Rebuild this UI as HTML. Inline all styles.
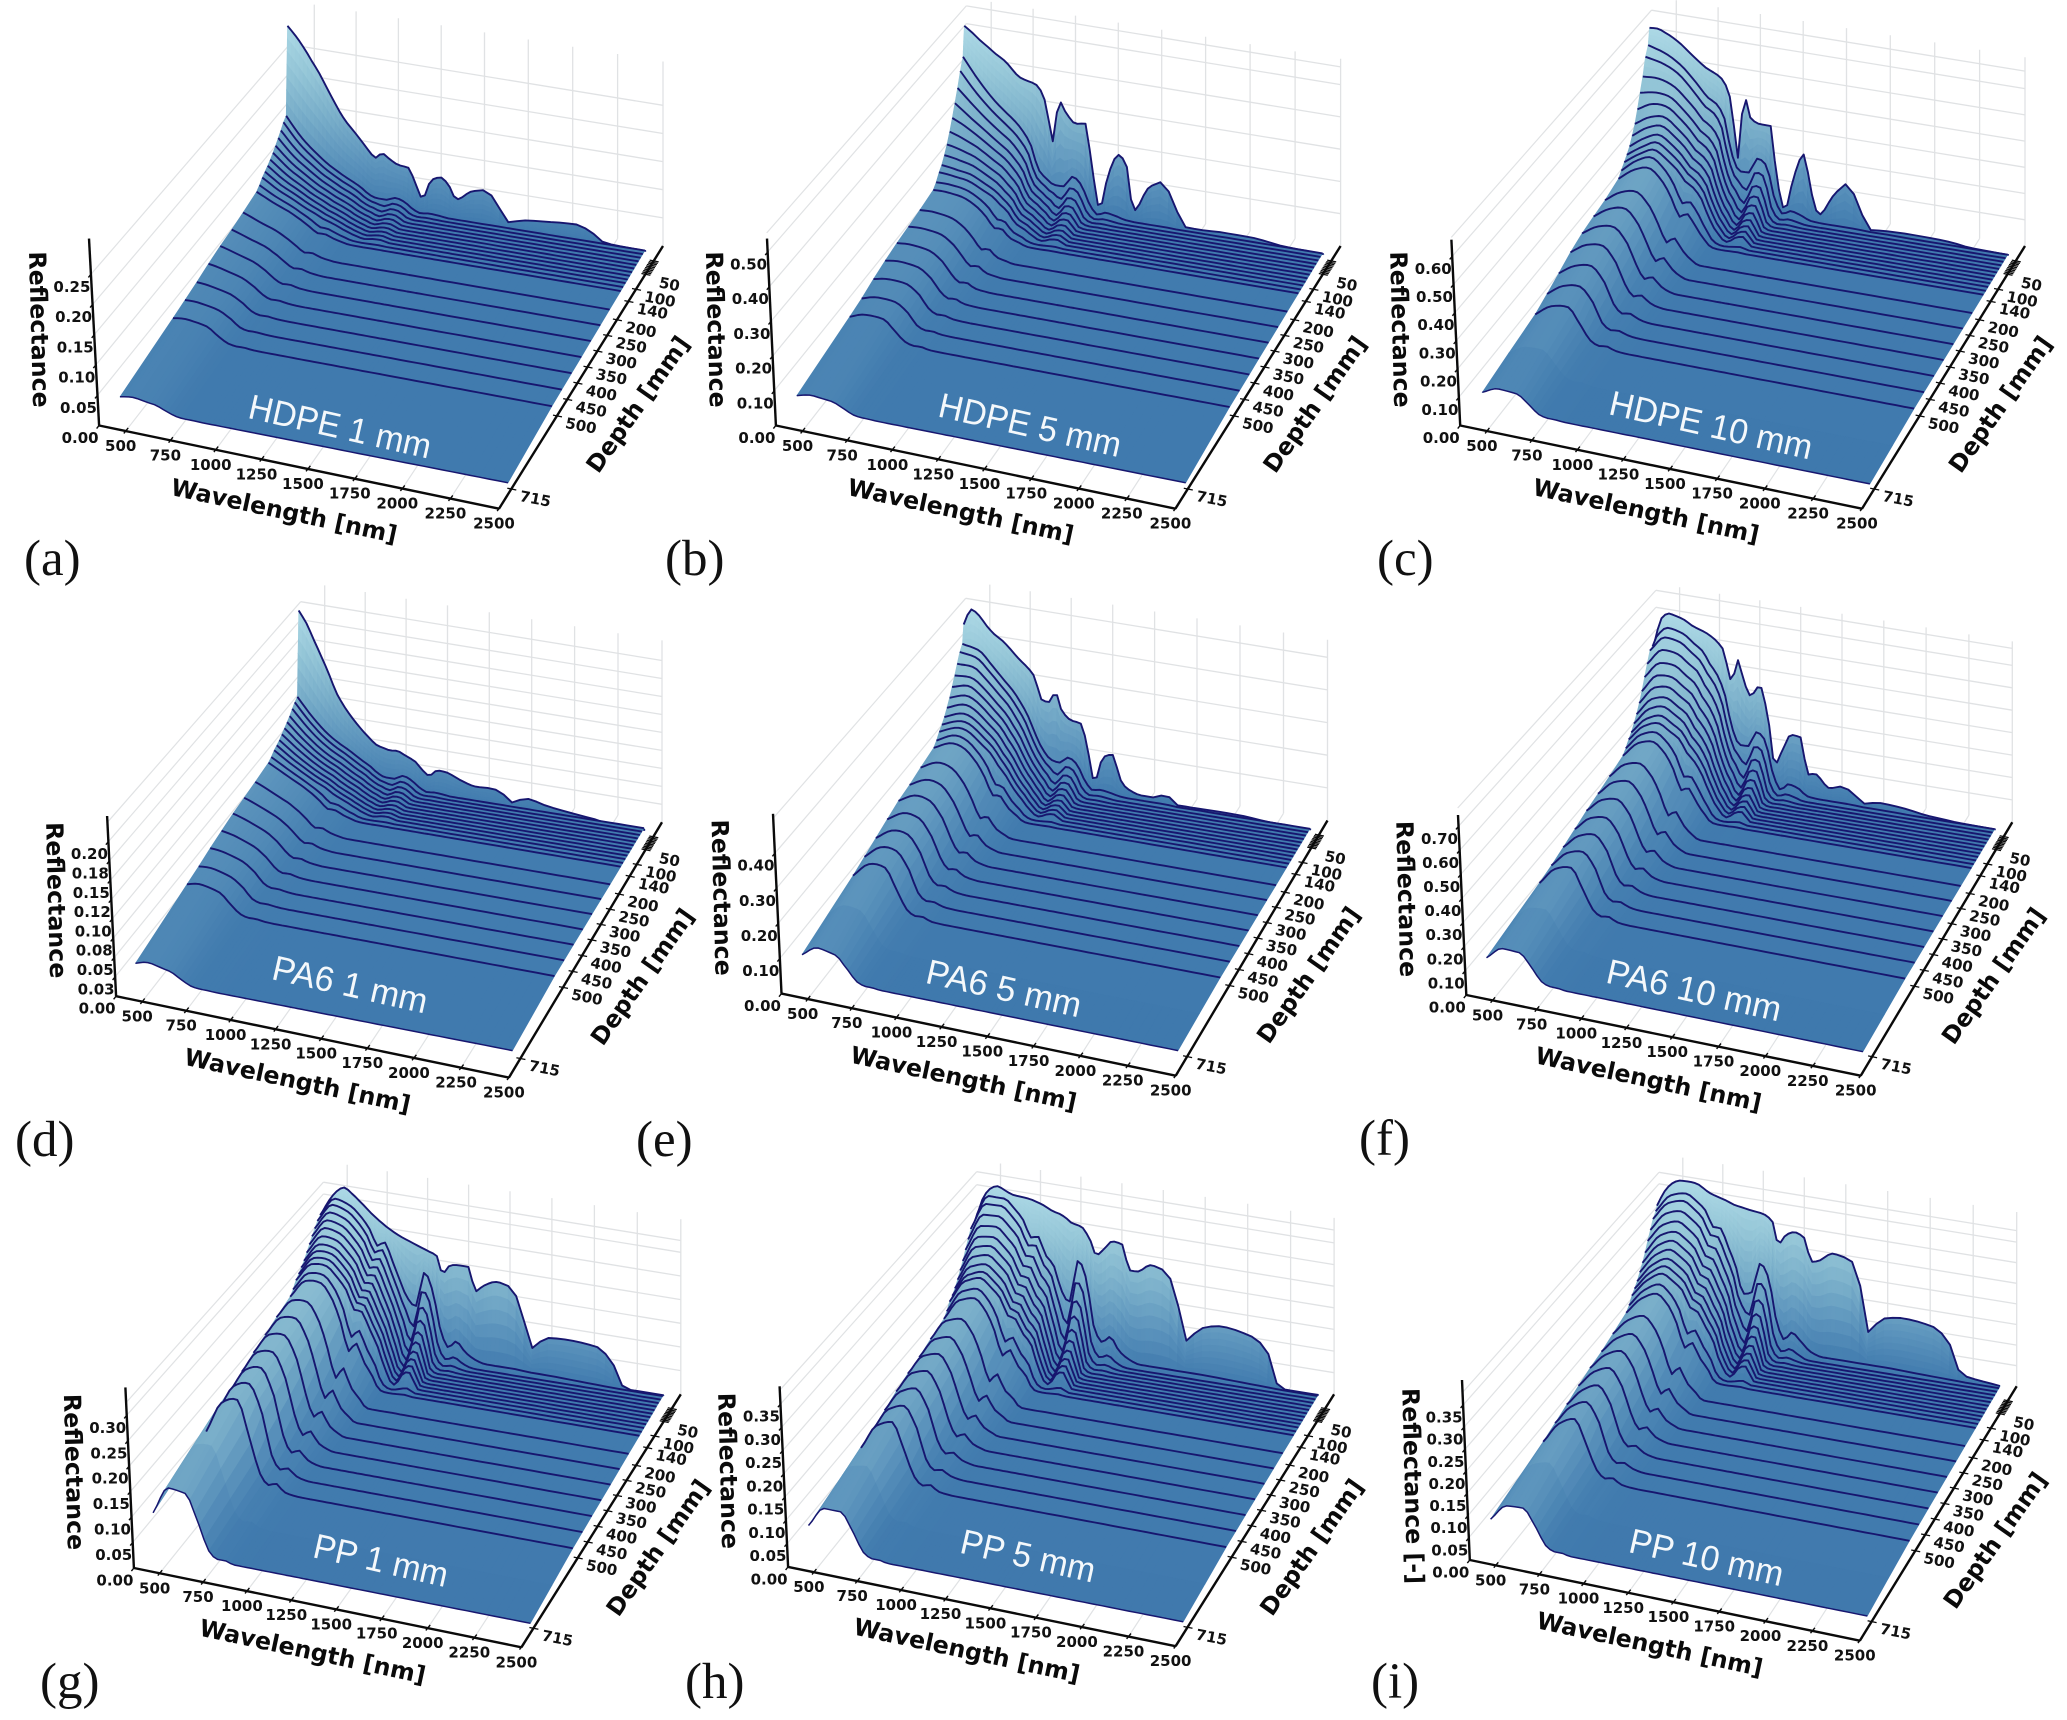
<!DOCTYPE html>
<html lang="en">
<head>
<meta charset="utf-8">
<title>Reflectance waterfall plots</title>
<style>
html,body{margin:0;padding:0;background:#fff;}
#figure{display:block;width:2067px;height:1720px;}
.tick{font-family:"DejaVu Sans",sans-serif;font-weight:700;font-size:15px;fill:#111;text-anchor:middle;dominant-baseline:central;}
.axis-title{font-family:"DejaVu Sans",sans-serif;font-weight:700;font-size:23.7px;fill:#0a0a0a;text-anchor:middle;dominant-baseline:central;}
.sample{font-family:"Liberation Sans",sans-serif;font-size:35px;fill:#f4f8fb;text-anchor:middle;dominant-baseline:central;}
.letter{font-family:"Liberation Serif",serif;font-size:51px;fill:#111;}
</style>
</head>
<body>
<svg id="figure" xmlns="http://www.w3.org/2000/svg" width="2067" height="1720" viewBox="0 0 2067 1720">
<rect width="2067" height="1720" fill="#fff"/>
</svg>
<script>
const wavelengthTicks=[500,750,1000,1250,1500,1750,2000,2250,2500];
const depthLabelTicks=[50,100,140,200,250,300,350,400,450,500,715];
const depthMinorTicks=[5,10,15,20,25,30,35,40,45];
const depthRows=[6,18,30,42,54,66,78,90,102,114,127,140,200,250,300,350,400,450,500,715];
const surfaceKnots=[350,400,450,500,550,600,700,800,860,897,940,980,1040,1100,1135,1185,1240,1300,1345,1390,1480,1560,1630,1690,1790,1920,2100,2190,2270,2500];
const waterKnots=[350,450,550,620,680,725,770,820,870,920,970,1030,1080,1130,1180,1230,1290,1350,1420,1600,1700,1800,2000,2500];

const waterShape5=[1,1,1,1,1,1,1,1,1,1,1,1,1,1,1,1,1,1,1,1,1,1,1,1];
const waterShape10=[.98,.99,1,.997,.99,.985,.98,.97,.955,.89,.67,.835,.87,.61,.37,.41,.30,.05,0,0,.01,0,0,0];
const waterShape15=[.94,.98,1,.995,.99,.97,.955,.94,.91,.79,.45,.70,.755,.37,.135,.165,.09,.003,0,0,0,0,0,0];
const waterShape20=[.90,.96,1,.99,.98,.955,.935,.91,.875,.70,.30,.585,.66,.22,.05,.065,.025,0,0,0,0,0,0,0];
const waterShape25=[.84,.95,1,.99,.975,.94,.915,.88,.835,.62,.20,.49,.57,.135,.018,.027,.008,0,0,0,0,0,0,0];
const waterShape30=[.79,.92,1,.985,.97,.925,.895,.855,.80,.55,.135,.405,.50,.082,.007,.01,.003,0,0,0,0,0,0,0];
const waterShape35=[.75,.90,1,.985,.965,.91,.875,.825,.765,.49,.09,.335,.43,.05,.003,.004,.001,0,0,0,0,0,0,0];
const waterShape40=[.72,.88,1,.985,.955,.89,.86,.80,.735,.44,.06,.28,.375,.03,.001,.001,0,0,0,0,0,0,0,0];
const waterShape45=[.70,.86,1,.98,.95,.885,.835,.77,.70,.385,.04,.235,.33,.02,0,0,0,0,0,0,0,0,0,0];
const waterShape50=[.69,.86,1,.975,.945,.86,.82,.75,.665,.345,.027,.20,.285,.011,0,0,0,0,0,0,0,0,0,0];
const waterShape100=[.67,.87,1,.945,.80,.60,.67,.545,.425,.10,0,.033,.073,0,0,0,0,0,0,0,0,0,0,0];
const waterShape140=[.68,.88,1,.92,.72,.48,.58,.42,.295,.04,0,.008,.022,0,0,0,0,0,0,0,0,0,0,0];
const waterShape200=[.69,.89,1,.89,.62,.355,.49,.29,.18,.009,0,0,.004,0,0,0,0,0,0,0,0,0,0,0];
const waterShape250=[.69,.89,1,.86,.535,.28,.395,.21,.11,.002,0,0,0,0,0,0,0,0,0,0,0,0,0,0];
const waterShape300=[.70,.90,1,.84,.45,.225,.31,.15,.07,0,0,0,0,0,0,0,0,0,0,0,0,0,0,0];
const waterShape350=[.68,.90,1,.81,.38,.175,.245,.11,.046,0,0,0,0,0,0,0,0,0,0,0,0,0,0,0];
const waterShape400=[.64,.88,1,.79,.30,.135,.18,.08,.027,0,0,0,0,0,0,0,0,0,0,0,0,0,0,0];
const waterShape450=[.60,.88,1,.76,.24,.105,.14,.06,.017,0,0,0,0,0,0,0,0,0,0,0,0,0,0,0];
const waterShape500=[.56,.88,1,.60,.20,.10,.14,.04,.012,0,0,0,0,0,0,0,0,0,0,0,0,0,0,0];
const waterShape715=[.65,1,1,.6,.15,.05,.05,0,0,0,0,0,0,0,0,0,0,0,0,0,0,0,0,0];
const waterShapes=[waterShape5,waterShape10,waterShape15,waterShape20,waterShape25,waterShape30,waterShape35,waterShape40,waterShape45,waterShape50,waterShape100,waterShape140,waterShape200,waterShape250,waterShape300,waterShape350,waterShape400,waterShape450,waterShape500,waterShape715];

const surfaceA=[.297,.282,.264,.243,.222,.197,.15,.118,.098,.088,.098,.091,.082,.08,.06,.03,.065,.072,.06,.038,.056,.062,.045,.012,.02,.024,.028,.018,.003,.001];
const surfaceB=[.527,.51,.49,.473,.455,.44,.395,.38,.325,.212,.342,.31,.28,.285,.17,.03,.143,.205,.18,.04,.118,.142,.085,.015,.014,.017,.016,.01,.005,.001];
const surfaceC=[.644,.646,.635,.62,.60,.575,.528,.495,.41,.20,.44,.36,.345,.345,.16,.035,.165,.257,.12,.037,.12,.171,.095,.01,.016,.018,.016,.012,.005,.001];
const surfaceD=[.228,.212,.19,.168,.145,.12,.09,.068,.058,.056,.054,.055,.05,.044,.036,.028,.037,.036,.032,.028,.023,.024,.022,.009,.018,.012,.007,.005,.002,.001];
const surfaceE=[.455,.505,.49,.462,.44,.425,.38,.335,.26,.26,.292,.24,.215,.21,.155,.04,.118,.13,.06,.034,.02,.02,.036,.008,.008,.009,.008,.004,.002,.001];
const surfaceF=[.576,.70,.727,.72,.71,.69,.665,.61,.47,.57,.475,.42,.47,.30,.13,.20,.275,.27,.11,.118,.065,.08,.06,.02,.035,.03,.012,.008,.004,.001];
const surfaceG=[.27,.30,.322,.333,.323,.31,.282,.26,.25,.245,.24,.235,.228,.22,.185,.205,.208,.208,.159,.172,.186,.18,.14,.058,.085,.088,.083,.055,.004,.004];
const surfaceH=[.27,.33,.358,.367,.36,.353,.35,.34,.33,.327,.32,.31,.305,.275,.245,.262,.283,.279,.222,.222,.242,.235,.195,.08,.115,.127,.115,.088,.005,.005];
const surfaceI=[.31,.348,.37,.38,.381,.38,.361,.35,.342,.34,.337,.335,.332,.316,.265,.29,.30,.29,.235,.24,.263,.258,.24,.086,.125,.134,.125,.095,.02,.008];

const submergedA=[.14,.105,.08,.065,.055,.048,.042,.034,.024,.02,.02,.026,.022,.012,.006,.008,.007,.005,.004,.004,.004,.004,.003,.002];
const submergedB=[.436,.37,.315,.285,.26,.235,.20,.125,.10,.085,.085,.12,.10,.045,.015,.025,.02,.012,.01,.01,.008,.008,.006,.003];
const submergedC=[.584,.565,.53,.49,.45,.42,.405,.36,.22,.16,.16,.22,.20,.08,.025,.04,.03,.015,.012,.012,.01,.01,.008,.004];
const submergedD=[.11,.085,.065,.055,.048,.042,.036,.03,.022,.018,.018,.024,.02,.012,.007,.008,.007,.005,.004,.004,.004,.004,.003,.002];
const submergedE=[.40,.39,.345,.31,.28,.25,.215,.16,.115,.09,.085,.105,.09,.045,.018,.022,.018,.012,.01,.01,.009,.009,.007,.004];
const submergedF=[.60,.67,.655,.62,.59,.54,.50,.42,.27,.20,.20,.27,.24,.10,.03,.06,.05,.02,.015,.015,.012,.012,.01,.005];
const submergedG=[.27,.31,.30,.28,.255,.225,.235,.20,.16,.125,.11,.185,.15,.07,.035,.05,.03,.018,.012,.012,.01,.01,.008,.004];
const submergedH=[.28,.345,.345,.325,.30,.265,.27,.23,.21,.155,.13,.23,.19,.08,.05,.065,.035,.02,.012,.012,.012,.012,.01,.005];
const submergedI=[.30,.345,.355,.34,.32,.285,.285,.245,.20,.135,.14,.215,.185,.085,.04,.06,.04,.02,.012,.012,.012,.012,.01,.005];

const gainA=[1,.96,.9,.85,.8,.76,.72,.69,.66,.63,.58,.54,.5,.47,.45,.42,.39,.37,.35,.18];
const gainB=[1,.93,.85,.78,.72,.66,.6,.55,.5,.47,.42,.38,.35,.33,.31,.29,.27,.24,.22,.1];
const gainC=[1,.96,.88,.82,.77,.72,.68,.64,.61,.58,.55,.50,.45,.43,.40,.37,.33,.29,.25,.128];
const gainD=[1,.97,.93,.88,.85,.82,.79,.76,.74,.72,.68,.65,.62,.6,.58,.55,.53,.5,.48,.25];
const gainE=[1,.97,.92,.87,.83,.79,.75,.71,.68,.65,.61,.57,.54,.51,.49,.46,.44,.42,.40,.22];
const gainF=[1,.96,.9,.84,.78,.73,.68,.64,.6,.57,.53,.49,.45,.42,.39,.36,.34,.32,.31,.185];
const gainG=[1,.98,.95,.92,.89,.86,.83,.81,.79,.77,.73,.7,.68,.66,.64,.62,.61,.6,.59,.41];
const gainH=[1,.97,.92,.87,.82,.78,.74,.70,.67,.65,.6,.56,.53,.5,.48,.46,.44,.42,.41,.267];
const gainI=[1,.97,.92,.87,.82,.78,.74,.7,.67,.64,.59,.55,.51,.48,.46,.44,.42,.405,.39,.25];

const ticksA=[0,.05,.10,.15,.20,.25];
const ticksB=[0,.1,.2,.3,.4,.5];
const ticksC=[0,.1,.2,.3,.4,.5,.6];
const ticksD=[0,.025,.05,.075,.1,.125,.15,.175,.2];
const ticksE=[0,.1,.2,.3,.4];
const ticksF=[0,.1,.2,.3,.4,.5,.6,.7];
const ticksG=[0,.05,.1,.15,.2,.25,.3];
const ticksH=[0,.05,.1,.15,.2,.25,.3,.35];
const ticksI=[0,.05,.1,.15,.2,.25,.3,.35];
const tickTextD=['0.00','0.03','0.05','0.08','0.10','0.12','0.15','0.18','0.20'];

const WL_MIN=350,WL_MAX=2500,DEPTH_MAX=715;
const panels=[
{id:'a',name:'HDPE 1 mm',surface:surfaceA,sub:submergedA,gain:gainA,ticks:ticksA,base:.005,uvLift:.9,zf:605,O:[99.1,425.5],F:[499,508.7],B:[663,246],ZT:[89,238.6],SFL:[120.5,406.7],SFR:[508,482.8],SBR:[646,251.6],SBL:[287.5,193],wallTop:.328,wallExtra:null,text:[340,427,186],letter:['(a)',24,575]},
{id:'b',name:'HDPE 5 mm',surface:surfaceB,sub:submergedB,gain:gainB,ticks:ticksB,base:.009,uvLift:.4,zf:347,O:[775.9,425.5],F:[1175.4,508.7],B:[1340.6,246],ZT:[767,238.6],SFL:[797.3,405.4],SFR:[1185.7,482.8],SBR:[1323.7,254.5],SBL:[964.3,195.9],wallTop:.58,wallExtra:.555,text:[1030,425.5,186],letter:['(b)',665,575]},
{id:'c',name:'HDPE 10 mm',surface:surfaceC,sub:submergedC,gain:gainC,ticks:ticksC,base:.009,uvLift:.1,zf:282,O:[1460.2,425.5],F:[1862,508.7],B:[2025,246],ZT:[1451.4,239.7],SFL:[1483,406],SFR:[1869.9,483.9],SBR:[2008.8,255.3],SBL:[1649.5,196.7],wallTop:.72,wallExtra:.667,text:[1711,425.5,207],letter:['(c)',1377,575]},
{id:'d',name:'PA6 1 mm',surface:surfaceD,sub:submergedD,gain:gainD,ticks:ticksD,tickText:tickTextD,base:.006,uvLift:.9,zf:773,O:[116.1,996.2],F:[508.9,1077.6],B:[662,822.3],ZT:[107.1,816],SFL:[136.2,977],SFR:[512.5,1050.6],SBR:[645,830.8],SBL:[298.7,774.4],wallTop:.253,wallExtra:.225,text:[350,985,158],letter:['(d)',15,1156]},
{id:'e',name:'PA6 5 mm',surface:surfaceE,sub:submergedE,gain:gainE,ticks:ticksE,base:.008,uvLift:.5,zf:351,O:[781.5,993.6],F:[1175.7,1075.7],B:[1327.5,820.5],ZT:[773,813.8],SFL:[803,974.8],SFR:[1178,1050.6],SBR:[1311,829.7],SBL:[963.7,773],wallTop:.554,wallExtra:.5,text:[1003.8,988.8,158],letter:['(e)',636,1156]},
{id:'f',name:'PA6 10 mm',surface:surfaceF,sub:submergedF,gain:gainF,ticks:ticksF,base:.01,uvLift:.5,zf:241,O:[1466.3,995],F:[1860.7,1075.7],B:[2012.3,822.3],ZT:[1458,815],SFL:[1487.4,975.1],SFR:[1862.9,1051.7],SBR:[1995.7,829.7],SBL:[1653.9,774],wallTop:.807,wallExtra:.776,text:[1694,990.7,178],letter:['(f)',1359,1155]},
{id:'g',name:'PP 1 mm',surface:surfaceG,sub:submergedG,gain:gainG,ticks:ticksG,base:.006,uvLift:.9,zf:509,O:[133.9,1568],F:[521.4,1647.3],B:[680.8,1394.3],ZT:[125.4,1387.4],SFL:[154.9,1549.4],SFR:[530.4,1623.3],SBR:[663.8,1397.2],SBL:[321.4,1341.4],wallTop:.37,wallExtra:.325,text:[380.8,1560.8,137],letter:['(g)',40,1698]},
{id:'h',name:'PP 5 mm',surface:surfaceH,sub:submergedH,gain:gainH,ticks:ticksH,base:.007,uvLift:.7,zf:465,O:[788.1,1566.9],F:[1175.6,1646.2],B:[1334.1,1394.3],ZT:[779.6,1386.3],SFL:[809.6,1548.1],SFR:[1183.2,1621.8],SBR:[1318.5,1397.2],SBL:[974.7,1341.2],wallTop:.408,wallExtra:.38,text:[1028,1556.4,137],letter:['(h)',685,1698]},
{id:'i',name:'PP 10 mm',surface:surfaceI,sub:submergedI,gain:gainI,ticks:ticksI,base:.007,uvLift:.6,zf:443,O:[1469.8,1560],F:[1859.8,1640.7],B:[2016.7,1386.3],ZT:[1462,1380],SFL:[1491.7,1540.8],SFR:[1867.3,1616],SBR:[2000,1389.3],SBL:[1657,1333.4],wallTop:.423,wallExtra:.378,text:[1706.5,1557.9,157],letter:['(i)',1371,1698],zTitle:'Reflectance [-]',zTitleOffset:[-57,-74]}
];

const NS='http://www.w3.org/2000/svg';
const root=document.getElementById('figure');
function persp(t,r){return t/(t+(1-t)*r);}
function depthFrac(d){return persp((DEPTH_MAX-d)/DEPTH_MAX,.92);}
function wlFrac(w){return 1-persp(1-(w-WL_MIN)/(WL_MAX-WL_MIN),.95);}
function mix(a,b,t){return [a[0]+(b[0]-a[0])*t,a[1]+(b[1]-a[1])*t];}

function pchip(xs,ys){
  const n=xs.length,h=[],s=[],m=new Array(n).fill(0);
  for(let i=0;i<n-1;i++){h[i]=xs[i+1]-xs[i];s[i]=(ys[i+1]-ys[i])/h[i];}
  m[0]=s[0];m[n-1]=s[n-2];
  for(let i=1;i<n-1;i++){m[i]=s[i-1]*s[i]<=0?0:2*s[i-1]*s[i]/(s[i-1]+s[i]);}
  return function(x){
    let i=0;while(i<n-2&&x>xs[i+1])i++;
    const t=(x-xs[i])/h[i],t2=t*t,t3=t2*t;
    return (2*t3-3*t2+1)*ys[i]+(t3-2*t2+t)*h[i]*m[i]+(-2*t3+3*t2)*ys[i+1]+(t3-t2)*h[i]*m[i+1];
  };
}

const sampleWl=[];
for(let w=WL_MIN;w<1500;w+=25)sampleWl.push(w);
for(let w=1500;w<=WL_MAX;w+=50)sampleWl.push(w);

const colorStops=[[63,121,173],[91,147,188],[122,175,202],[150,199,216],[173,217,230]];
function colorFor(t){
  t=Math.max(0,Math.min(1,t))*(colorStops.length-1);
  const i=Math.min(colorStops.length-2,Math.floor(t)),f=t-i,a=colorStops[i],b=colorStops[i+1];
  return 'rgb('+Math.round(a[0]+(b[0]-a[0])*f)+','+Math.round(a[1]+(b[1]-a[1])*f)+','+Math.round(a[2]+(b[2]-a[2])*f)+')';
}

function addLine(g,a,b,stroke,width,name){
  const el=document.createElementNS(NS,'line');
  el.setAttribute('x1',a[0].toFixed(1));el.setAttribute('y1',a[1].toFixed(1));
  el.setAttribute('x2',b[0].toFixed(1));el.setAttribute('y2',b[1].toFixed(1));
  el.setAttribute('stroke',stroke);el.setAttribute('stroke-width',width);
  
  
  g.appendChild(el);
}
function addText(g,str,x,y,cls,rot,name,len){
  const el=document.createElementNS(NS,'text');
  el.setAttribute('x',x.toFixed(1));el.setAttribute('y',y.toFixed(1));
  el.setAttribute('class',cls);
  if(rot)el.setAttribute('transform','rotate('+rot+' '+x.toFixed(1)+' '+y.toFixed(1)+')');
  if(len){el.setAttribute('textLength',len);el.setAttribute('lengthAdjust','spacingAndGlyphs');}
  el.textContent=str;
  
  
  g.appendChild(el);
}

function drawPanel(p){
  const g=document.createElementNS(NS,'g');
  
  
  root.appendChild(g);

  const zb=p.zf*.93;
  const BLx=p.SBL[0]+2;
  const BL=[BLx,p.B[1]-(p.B[0]-BLx)*.163];
  const len=Math.hypot(BL[0]-p.O[0],BL[1]-p.O[1]);
  const dir=[(BL[0]-p.O[0])/len,(BL[1]-p.O[1])/len];
  const zAxisTop=(p.O[1]-p.ZT[1])/p.zf;
  const zAxisPoint=z=>mix(p.O,p.ZT,z/zAxisTop);
  const gridColor='#e0e2e4';

  /* walls */
  const levels=p.ticks.slice(1);
  if(p.wallExtra)levels.push(p.wallExtra);
  levels.forEach(z=>{
    const a=zAxisPoint(z);
    const corner=[BL[0],BL[1]-z*zb];
    const right=[p.B[0],p.B[1]-z*zb];
    addLine(g,a,corner,gridColor,1.2,'left-wall-gridline');
    addLine(g,corner,right,gridColor,1.3,'back-wall-gridline');
  });
  wavelengthTicks.forEach(w=>{
    const f=wlFrac(w);
    const b=mix(BL,p.B,f);
    const a=mix(p.O,p.F,f);
    addLine(g,b,[b[0],b[1]-p.wallTop*zb],gridColor,1.3,'back-wall-wavelength-gridline');
    addLine(g,a,b,gridColor,1.2,'floor-wavelength-gridline');
  });

  /* surface */
  const ridge=pchip(surfaceKnots,p.surface);
  const subFn=pchip(waterKnots,p.sub);
  const shapeFns=waterShapes.map((r,i)=>{
    const d=depthRows[i];
    const lift=d===DEPTH_MAX?0:p.uvLift*Math.max(0,1-d/600);
    const lifted=r.slice();
    lifted[0]=r[0]+(1-r[0])*lift;
    lifted[1]=r[1]+(1-r[1])*lift;
    return pchip(waterKnots,lifted);
  });
  const rows=[{d:0,z:sampleWl.map(w=>Math.max(0,ridge(w)))}];
  depthRows.forEach((d,i)=>{
    const base=d===DEPTH_MAX?0:p.base;
    rows.push({d:d,z:sampleWl.map(w=>{
      const s=Math.max(0,subFn(w));
      const shape=Math.max(0,shapeFns[i](w));
      const v=base+Math.max(0,s-base)*p.gain[i]*shape;
      return Math.min(v,Math.max(ridge(w),base));
    })});
  });
  const zMax=Math.max.apply(null,rows[0].z);

  const project=(w,d,z)=>{
    const sv=wlFrac(w),su=depthFrac(d);
    const front=mix(p.SFL,p.SFR,sv),back=mix(p.SBL,p.SBR,sv);
    const fl=mix(front,back,su);
    const zpx=z*p.zf*(1-.07*su);
    return [fl[0]-zpx*.05*(1-su),fl[1]-zpx];
  };
  const drawRowLine=(row,width)=>{
    const pts=row.z.map((z,i)=>project(sampleWl[i],row.d,z));
    const el=document.createElementNS(NS,'path');
    el.setAttribute('d','M'+pts.map(q=>q[0].toFixed(1)+' '+q[1].toFixed(1)).join('L'));
    el.setAttribute('fill','none');
    el.setAttribute('stroke','#17166f');
    el.setAttribute('stroke-width',width);
    el.setAttribute('stroke-linejoin','round');
    
    
    g.appendChild(el);
  };

  for(let k=0;k<rows.length-1;k++){
    const r0=rows[k],r1=rows[k+1];
    let maxDz=0;
    r0.z.forEach((z,i)=>{maxDz=Math.max(maxDz,Math.abs(z-r1.z[i]));});
    const nSub=Math.max(1,Math.ceil(maxDz*p.zf/16));
    for(let i=0;i<sampleWl.length-1;i++){
      for(let j=0;j<nSub;j++){
        const t0=j/nSub,t1=(j+1)/nSub;
        const d0=r0.d+(r1.d-r0.d)*t0,d1=r0.d+(r1.d-r0.d)*t1;
        const za0=r0.z[i]+(r1.z[i]-r0.z[i])*t0,za1=r0.z[i]+(r1.z[i]-r0.z[i])*t1;
        const zb0=r0.z[i+1]+(r1.z[i+1]-r0.z[i+1])*t0,zb1=r0.z[i+1]+(r1.z[i+1]-r0.z[i+1])*t1;
        const a=project(sampleWl[i],d0,za0),b=project(sampleWl[i+1],d0,zb0),c=project(sampleWl[i+1],d1,zb1),e=project(sampleWl[i],d1,za1);
        const col=colorFor((za0+za1+zb0+zb1)/4/zMax);
        const facet=document.createElementNS(NS,'path');
        facet.setAttribute('d','M'+a[0].toFixed(1)+' '+a[1].toFixed(1)+'L'+b[0].toFixed(1)+' '+b[1].toFixed(1)+'L'+c[0].toFixed(1)+' '+c[1].toFixed(1)+'L'+e[0].toFixed(1)+' '+e[1].toFixed(1)+'Z');
        facet.setAttribute('fill',col);
        facet.setAttribute('stroke',col);
        facet.setAttribute('stroke-width','.6');
        
        
        g.appendChild(facet);
      }
    }
    drawRowLine(r0,1.9);
  }
  drawRowLine(rows[rows.length-1],1.5);

  /* axes */
  addLine(g,p.O,p.F,'#0a0a0a',2.4,'wavelength-axis-line');
  addLine(g,p.F,p.B,'#0a0a0a',2.4,'depth-axis-line');
  addLine(g,p.O,p.ZT,'#0a0a0a',2.4,'reflectance-axis-line');

  wavelengthTicks.forEach(w=>{
    const q=mix(p.O,p.F,wlFrac(w));
    addLine(g,[q[0]-dir[0]*3,q[1]-dir[1]*3],[q[0]+dir[0]*4,q[1]+dir[1]*4],'#0a0a0a',1.4,'wavelength-tick');
    addText(g,String(w),q[0]-5,q[1]+15,'tick',0,'wavelength-tick-label');
  });
  p.ticks.forEach((z,i)=>{
    const q=zAxisPoint(z);
    addLine(g,[q[0]+dir[0]*1,q[1]+dir[1]*1],[q[0]-dir[0]*4,q[1]-dir[1]*4],'#0a0a0a',1.4,'reflectance-tick');
    const label=p.tickText?p.tickText[i]:z.toFixed(2);
    addText(g,label,q[0]-19,q[1]+12.5,'tick',0,'reflectance-tick-label');
  });
  const depthAxisPoint=d=>mix(p.F,p.B,.075+.874*depthFrac(d));
  depthMinorTicks.forEach(d=>{
    const q=depthAxisPoint(d);
    addLine(g,[q[0]-4,q[1]-.8],[q[0]+5,q[1]+1],'#0a0a0a',1.3,'depth-minor-tick');
  });
  depthLabelTicks.forEach(d=>{
    const q=depthAxisPoint(d);
    addLine(g,[q[0]-4,q[1]-.8],[q[0]+5,q[1]+1],'#0a0a0a',1.3,'depth-tick');
    addText(g,String(d),q[0]+24,q[1]+10,'tick',11,'depth-tick-label');
  });

  /* titles */
  const mx=(p.O[0]+p.F[0])/2,my=(p.O[1]+p.F[1])/2;
  addText(g,'Wavelength [nm]',mx-15,my+44,'axis-title',12.1,'wavelength-axis-title');
  const bx=(p.F[0]+p.B[0])/2,by=(p.F[1]+p.B[1])/2;
  addText(g,'Depth [mm]',bx+57,by+27,'axis-title',-54.8,'depth-axis-title');
  const zo=p.zTitleOffset||[-60,-96];
  addText(g,p.zTitle||'Reflectance',p.O[0]+zo[0],p.O[1]+zo[1],'axis-title',88.5,'reflectance-axis-title');
  addText(g,p.name,p.text[0],p.text[1],'sample',12.7,'sample-label',p.text[2]);

  const lt=document.createElementNS(NS,'text');
  lt.setAttribute('x',p.letter[1]);
  lt.setAttribute('y',p.letter[2]);
  lt.setAttribute('class','letter');
  lt.textContent=p.letter[0];
  
  
  g.appendChild(lt);
}
panels.forEach(drawPanel);
</script>
</body>
</html>
